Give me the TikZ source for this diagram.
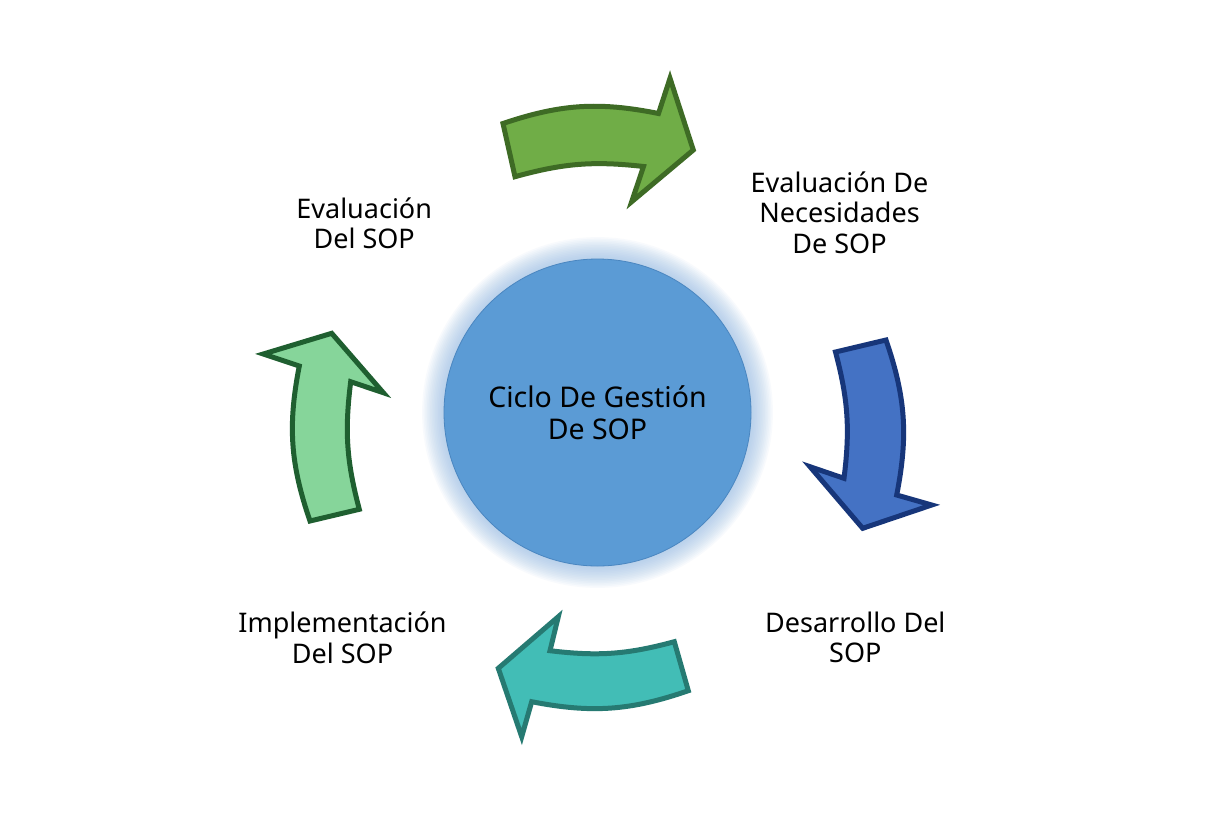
\documentclass[tikz,border=0pt]{standalone}
\usepackage{fontspec}
\setmainfont{Noto Sans}
\definecolor{circfill}{HTML}{5B9BD5}
\definecolor{circline}{HTML}{4A86C0}
\definecolor{glowc}{HTML}{8DB6E2}
\definecolor{gfill}{HTML}{70AD47}
\definecolor{gline}{HTML}{3E6B25}
\definecolor{bfill}{HTML}{4472C4}
\definecolor{bline}{HTML}{17367A}
\definecolor{tfill}{HTML}{42BDB6}
\definecolor{tline}{HTML}{267A72}
\definecolor{lfill}{HTML}{86D59A}
\definecolor{lline}{HTML}{1F5F30}
\tikzset{
  blockarrow/.style={line width=5pt, line join=miter},
  lbl/.style={align=center, inner sep=0pt, font=\fontsize{27}{30.5}\selectfont},
  hub/.style={circle, inner sep=0pt, minimum size=307pt, fill=circfill, draw=circline, line width=0.8pt, align=center, font=\fontsize{28.5}{32}\selectfont}
}
\begin{document}
\begin{tikzpicture}[x=1pt,y=-1pt]
\useasboundingbox (0,0) rectangle (1205,820);
\fill[white] (0,0) rectangle (1205,820);
% glow
\coordinate (ctr) at (597.5,412.5);
\foreach \i in {1,...,14} {\fill[glowc,opacity=0.06] (ctr) circle (153+\i*1.6);}
\node[hub] (hub) at (ctr) {Ciclo De Gestión\\De SOP};
% labels
\node[lbl] (n1) at (839.5,212.5) {Evaluación De\\Necesidades\\De SOP};
\node[lbl] (n2) at (855.3,637.2) {Desarrollo Del\\SOP};
\node[lbl] (n3) at (342.5,637.7) {Implementación\\Del SOP};
\node[lbl] (n4) at (364.2,223.3) {Evaluación\\Del SOP};
% top arrow
\coordinate (tA) at (503,123.5);
\coordinate (tB) at (658.5,113.5);
\coordinate (tC) at (670,78.3);
\coordinate (tD) at (693.3,150);
\coordinate (tE) at (631.7,201.7);
\coordinate (tF) at (643.5,166.5);
\coordinate (tG) at (515,176.7);
\draw[blockarrow, fill=gfill, draw=gline] (tA) to[bend left=15] (tB) -- (tC) -- (tD) -- (tE) -- (tF) to[bend right=11] (tG) -- cycle;
% right arrow
\coordinate (rA) at (886,340);
\coordinate (rB) at (896.7,495);
\coordinate (rC) at (931.7,505);
\coordinate (rD) at (862.7,528.3);
\coordinate (rE) at (810,466.7);
\coordinate (rF) at (844,478.3);
\coordinate (rG) at (835.5,352);
\draw[blockarrow, fill=bfill, draw=bline] (rA) to[bend left=15] (rB) -- (rC) -- (rD) -- (rE) -- (rF) to[bend right=11] (rG) -- cycle;
% bottom arrow
\coordinate (bA) at (688.3,690.7);
\coordinate (bB) at (531.7,701.7);
\coordinate (bC) at (521.7,736.7);
\coordinate (bD) at (498.3,668.3);
\coordinate (bE) at (558.3,616.7);
\coordinate (bF) at (550,650.7);
\coordinate (bG) at (674.3,641.7);
\draw[blockarrow, fill=tfill, draw=tline] (bA) to[bend left=15] (bB) -- (bC) -- (bD) -- (bE) -- (bF) to[bend right=11] (bG) -- cycle;
% left arrow
\coordinate (lA) at (310,521);
\coordinate (lB) at (299.3,366);
\coordinate (lC) at (263.3,354);
\coordinate (lD) at (331.7,333.3);
\coordinate (lE) at (383.3,392.7);
\coordinate (lF) at (350.7,381.7);
\coordinate (lG) at (359.3,509.3);
\draw[blockarrow, fill=lfill, draw=lline] (lA) to[bend left=15] (lB) -- (lC) -- (lD) -- (lE) -- (lF) to[bend right=11] (lG) -- cycle;
\end{tikzpicture}
\end{document}
